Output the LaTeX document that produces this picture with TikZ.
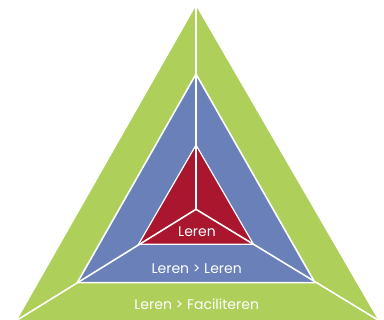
\documentclass[tikz,border=0pt]{standalone}
\usepackage{fontspec}
\setmainfont{Poppins}
\usepackage{tikz}

\definecolor{lgreen}{RGB}{174,207,90}
\definecolor{lblue}{RGB}{105,128,184}
\definecolor{lred}{RGB}{170,22,46}

\begin{document}
\begin{tikzpicture}[x=1pt,y=-1pt,
    edge/.style={white,line width=1.6pt},
    label/.style={white,font=\fontsize{14}{16}\selectfont}]
    \useasboundingbox (0,0) rectangle (384,320);

    % Corners
    \coordinate (gtop) at (196,6);
    \coordinate (gleft) at (17.3,320);
    \coordinate (gright) at (378,320);
    \coordinate (btop) at (196,74);
    \coordinate (bleft) at (77.3,282.7);
    \coordinate (bright) at (315,282.7);
    \coordinate (rtop) at (196,145);
    \coordinate (rleft) at (138.5,244.3);
    \coordinate (rright) at (253.5,244.3);
    \coordinate (ctr) at (196,209.3);

    % Triangles
    \fill[lgreen] (gtop) -- (gleft) -- (gright) -- cycle;
    \filldraw[lblue,draw=white,line width=1.6pt] (btop) -- (bleft) -- (bright) -- cycle;
    \filldraw[lred,draw=white,line width=1.2pt] (rtop) -- (rleft) -- (rright) -- cycle;

    % Spokes
    \draw[edge] (ctr) -- (gtop);
    \draw[edge] (ctr) -- (gleft);
    \draw[edge] (ctr) -- (gright);

    % Labels
    \node[label] (inner) at (197,231.5) {Leren};
    \node[label] (middle) at (196.7,268.3) {Leren > Leren};
    \node[label] (outer) at (196.7,304) {Leren > Faciliteren};
\end{tikzpicture}
\end{document}
